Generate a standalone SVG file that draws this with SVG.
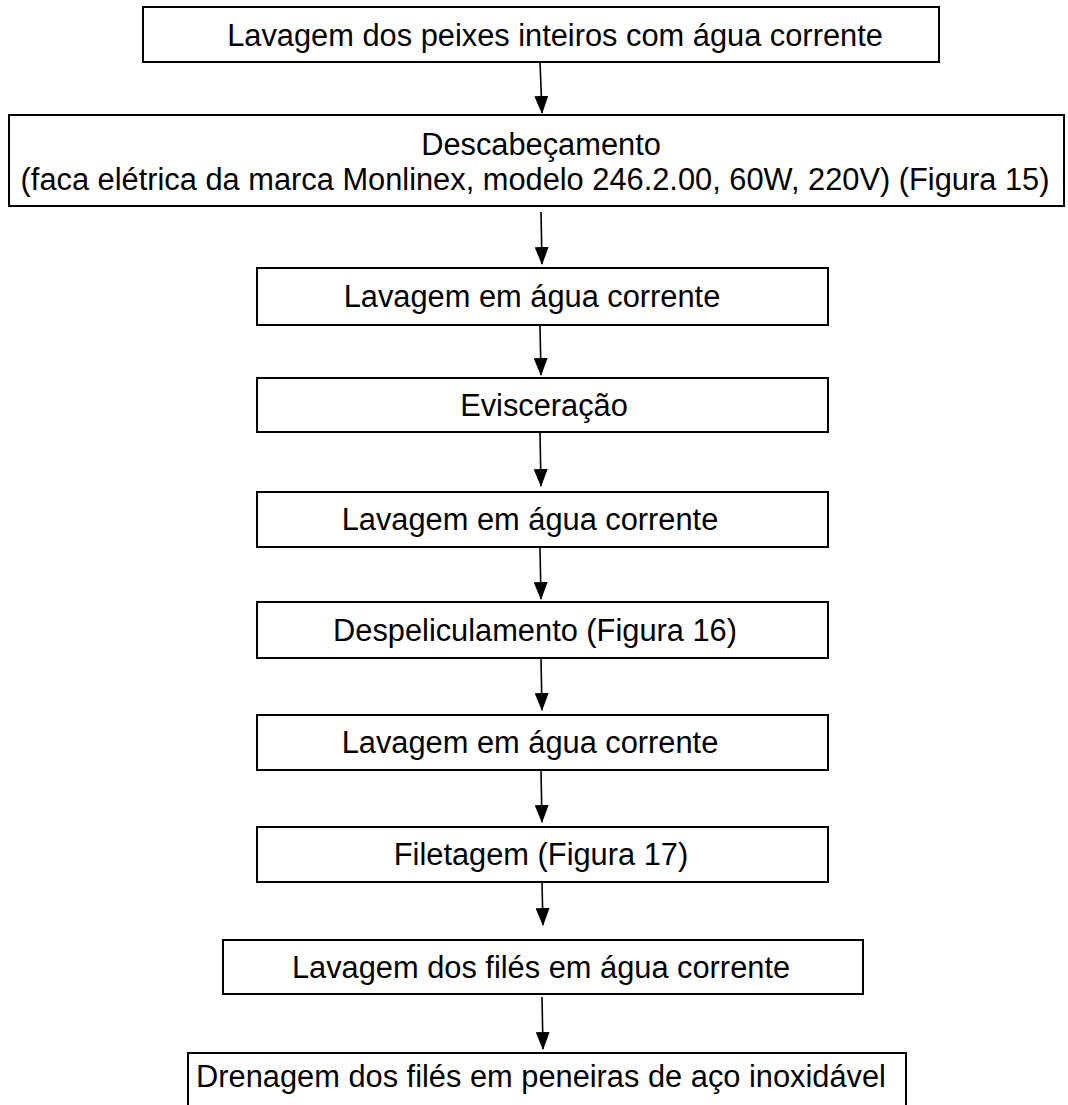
<svg xmlns="http://www.w3.org/2000/svg" width="1068" height="1105" viewBox="0 0 1068 1105">
<style>
.box{fill:#fff;stroke:#000;stroke-width:2}
.t{font-family:"Liberation Sans",Arial,sans-serif;font-size:30.8px;fill:#000;text-anchor:middle}
.c{stroke:#000;stroke-width:1.6;fill:none;marker-end:url(#ah)}
</style>
<defs>
<marker id="ah" markerUnits="userSpaceOnUse" markerWidth="18" markerHeight="14" refX="17" refY="7" orient="auto" viewBox="0 0 18 14">
<path d="M0,0 L18,7 L0,14 Z" fill="#000"/>
</marker>
</defs>
<rect width="1068" height="1105" fill="#fff"/>
<g id="n1"><rect class="box" x="143" y="7" width="796" height="55"/><text class="t" x="555" y="46">Lavagem dos peixes inteiros com água corrente</text></g>
<g id="n2"><rect class="box" x="9" y="115" width="1055" height="91"/><text class="t" x="541" y="155">Descabeçamento</text><text class="t" x="535" y="190">(faca elétrica da marca Monlinex, modelo 246.2.00, 60W, 220V) (Figura 15)</text></g>
<g id="n3"><rect class="box" x="257" y="268" width="571" height="57"/><text class="t" x="532" y="307">Lavagem em água corrente</text></g>
<g id="n4"><rect class="box" x="257" y="378" width="571" height="54"/><text class="t" x="544" y="416">Evisceração</text></g>
<g id="n5"><rect class="box" x="257" y="492" width="571" height="55"/><text class="t" x="530" y="530">Lavagem em água corrente</text></g>
<g id="n6"><rect class="box" x="257" y="602" width="571" height="56"/><text class="t" x="535" y="641">Despeliculamento (Figura 16)</text></g>
<g id="n7"><rect class="box" x="257" y="715" width="571" height="55"/><text class="t" x="530" y="753">Lavagem em água corrente</text></g>
<g id="n8"><rect class="box" x="257" y="827" width="571" height="55"/><text class="t" x="541" y="865">Filetagem (Figura 17)</text></g>
<g id="n9"><rect class="box" x="223" y="940" width="640" height="54"/><text class="t" x="541" y="978">Lavagem dos filés em água corrente</text></g>
<g id="n10"><rect class="box" x="188" y="1053" width="718" height="70"/><text class="t" x="541" y="1087">Drenagem dos filés em peneiras de aço inoxidável</text></g>
<g id="connectors">
<path class="c" d="M540,62 L542,113"/>
<path class="c" d="M541,212 L542,264"/>
<path class="c" d="M540,326 L541,375"/>
<path class="c" d="M540,433 L541,486"/>
<path class="c" d="M540,548 L541,599"/>
<path class="c" d="M541,659 L542,710"/>
<path class="c" d="M541,771 L542,822"/>
<path class="c" d="M542,883 L543,925"/>
<path class="c" d="M542,997 L543,1049"/>
</g>
</svg>
